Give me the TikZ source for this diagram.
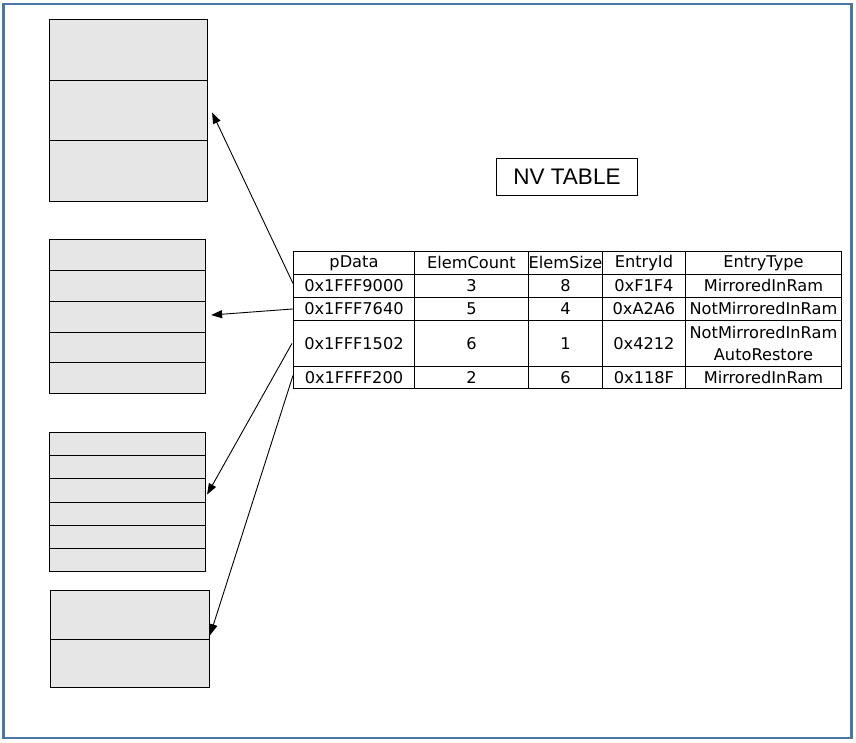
\documentclass[tikz,border=0pt]{standalone}
\usepackage{fontspec}
\setmainfont{DejaVu Sans}
\newfontfamily\arialfont{Liberation Sans}
\usetikzlibrary{arrows.meta}
\definecolor{framecol}{HTML}{4A76A8}
\definecolor{boxfill}{HTML}{E6E6E6}
\tikzset{
  slot/.style={draw=black, line width=1.1pt, fill=boxfill, inner sep=0pt, anchor=north west},
  cell/.style={draw=black, line width=0.9pt, inner sep=0pt, anchor=north west,
    font=\fontsize{16.2}{22}\selectfont, align=center},
  ptr/.style={-{Triangle[length=11pt,width=8pt]}, line width=0.9pt},
  titlebox/.style={draw=black, line width=0.9pt, inner sep=0pt, anchor=north west,
    font=\arialfont\fontsize{22.5}{24}\selectfont},
}
\newcommand\tcell[6]{\node[cell, minimum width=#4, minimum height=#5] (#1) at (#2,#3) {#6};}
\newcommand\mslot[5]{\node[slot, minimum width=#4, minimum height=#5] (#1) at (#2,#3) {};}
\begin{document}
\begin{tikzpicture}[x=1pt,y=-1pt]
\useasboundingbox (0,0) rectangle (856,742);
\draw[framecol, line width=2.2pt] (3.5,4) rectangle (851.5,738);

% memory block 1
\mslot{ma}{49}{19}{158}{61}
\mslot{mb}{49}{80}{158}{60}
\mslot{mc}{49}{140}{158}{61}
% memory block 2
\mslot{na}{49}{239}{156}{31}
\mslot{nb}{49}{270}{156}{31}
\mslot{nc}{49}{301}{156}{31}
\mslot{nd}{49}{332}{156}{30}
\mslot{ne}{49}{362}{156}{31}
% memory block 3
\mslot{oa}{49}{432}{156}{23}
\mslot{ob}{49}{455}{156}{23}
\mslot{oc}{49}{478}{156}{24}
\mslot{od}{49}{502}{156}{23}
\mslot{oe}{49}{525}{156}{23}
\mslot{of}{49}{548}{156}{23}
% memory block 4
\mslot{pa}{50}{590}{159}{49}
\mslot{pb}{50}{639}{159}{48}

% title
\node[titlebox, minimum width=141, minimum height=37] (title) at (496,157.5) {NV TABLE};

% table header
\tcell{h1}{293}{251}{121}{23}{pData}
\tcell{h2}{414}{251}{114}{23}{ElemCount}
\tcell{h3}{528}{251}{74}{23}{ElemSize}
\tcell{h4}{602}{251}{83}{23}{EntryId}
\tcell{h5}{685}{251}{156}{23}{EntryType}
% row 1
\tcell{a1}{293}{274}{121}{23}{0x1FFF9000}
\tcell{a2}{414}{274}{114}{23}{3}
\tcell{a3}{528}{274}{74}{23}{8}
\tcell{a4}{602}{274}{83}{23}{0xF1F4}
\tcell{a5}{685}{274}{156}{23}{MirroredInRam}
% row 2
\tcell{b1}{293}{297}{121}{23}{0x1FFF7640}
\tcell{b2}{414}{297}{114}{23}{5}
\tcell{b3}{528}{297}{74}{23}{4}
\tcell{b4}{602}{297}{83}{23}{0xA2A6}
\tcell{b5}{685}{297}{156}{23}{NotMirroredInRam}
% row 3
\tcell{c1}{293}{320}{121}{46}{0x1FFF1502}
\tcell{c2}{414}{320}{114}{46}{6}
\tcell{c3}{528}{320}{74}{46}{1}
\tcell{c4}{602}{320}{83}{46}{0x4212}
\tcell{c5}{685}{320}{156}{46}{NotMirroredInRam\\AutoRestore}
% row 4
\tcell{d1}{293}{366}{121}{22}{0x1FFFF200}
\tcell{d2}{414}{366}{114}{22}{2}
\tcell{d3}{528}{366}{74}{22}{6}
\tcell{d4}{602}{366}{83}{22}{0x118F}
\tcell{d5}{685}{366}{156}{22}{MirroredInRam}

% arrow tips
\coordinate (ta) at ([shift={(4,2)}]mb.east);
\coordinate (tb) at ([shift={(5,-2)}]nc.east);
\coordinate (tc) at ([shift={(1,4)}]oc.east);
\coordinate (td) at ([shift={(0,-5)}]pa.south east);

\draw[ptr] ([yshift=2.5pt]a1.west) -- (ta);
\draw[ptr] (b1.west) -- (tb);
\draw[ptr] ([xshift=-1pt]c1.west) -- (tc);
\draw[ptr] ([yshift=2pt]d1.west) -- (td);
\end{tikzpicture}
\end{document}
